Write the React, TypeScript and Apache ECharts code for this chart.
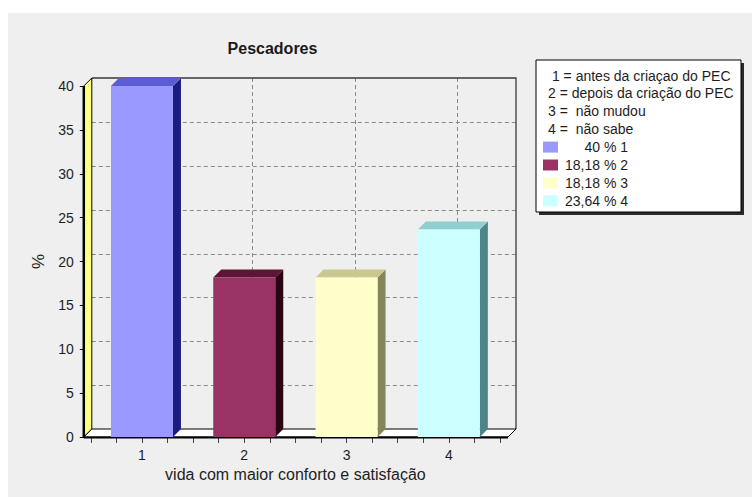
import React, { useEffect, useRef } from 'react';
import * as echarts from 'echarts';

const chartTitle = 'Pescadores';
const categories = ['1', '2', '3', '4'];
const values = [40, 18.18, 18.18, 23.64];
const legendDescriptions = [
  ' 1 = antes da criaçao do PEC',
  '2 = depois da criação do PEC',
  '3 =  não mudou',
  '4 =  não sabe',
];
const yTicks = [0, 5, 10, 15, 20, 25, 30, 35, 40];
const xAxisTitle = 'vida com maior conforto e satisfação';
const yAxisTitle = '%';

const frontColors = ['#9999ff', '#993366', '#ffffcc', '#ccffff'];
const topColors = ['#5c5cd6', '#5e1434', '#c9c98f', '#8fcfcf'];
const sideColors = ['#1c1c80', '#2b0414', '#85855a', '#4f8585'];

const FONT = "'Liberation Sans', Arial, sans-serif";
const TEXT = '#1e1e1e';
const DEPTH = 8;
const BAR_HALF = 0.303;
const Y_MAX = 40;

const fmt = (v: number) => String(v).replace('.', ',');

export default function App() {
  const ref = useRef<HTMLDivElement>(null);

  useEffect(() => {
    const chart = echarts.init(ref.current!, null, { renderer: 'svg' });
    const xs = categories.map((_, i) => i + 1);
    const xMin = 0.5;
    const xMax = categories.length + 0.5;

    const frameItem = (_params: any, api: any) => {
      const d = DEPTH;
      const [xl0, yB] = api.coord([xMin, 0]);
      const [xr0, yT] = api.coord([xMax, Y_MAX]);
      const xL = xl0 - 7;
      const xR = xr0 + 8;
      const children: any[] = [];
      const grid = { stroke: '#8a8a8a', lineWidth: 1, lineDash: [4, 3] };
      yTicks.forEach((v) => {
        if (v === 0 || v === Y_MAX) return;
        const y = Math.round(api.coord([1, v])[1] - d) + 0.5;
        children.push({ type: 'line', shape: { x1: xL + d, y1: y, x2: xR + d, y2: y }, style: grid });
      });
      xs.forEach((c) => {
        const x = Math.round(api.coord([c, 0])[0] + d) + 0.5;
        children.push({ type: 'line', shape: { x1: x, y1: yT - d, x2: x, y2: yB - d }, style: grid });
      });
      children.push({
        type: 'polyline',
        shape: { points: [[xL + d, yT - d], [xR + d, yT - d], [xR + d, yB - d]] },
        style: { stroke: '#3a3a3a', lineWidth: 1.3, fill: null },
      });
      children.push({
        type: 'polygon',
        shape: { points: [[xL, yT], [xL + d, yT - d], [xL + d, yB - d], [xL, yB]] },
        style: { fill: '#ffff80', stroke: '#000', lineWidth: 1 },
      });
      children.push({
        type: 'polygon',
        shape: { points: [[xL, yB], [xL + d, yB - d], [xR + d, yB - d], [xR, yB]] },
        style: { fill: '#ffffff', stroke: '#000', lineWidth: 1 },
      });
      children.push({
        type: 'line',
        shape: { x1: xL, y1: yB + 0.5, x2: xR, y2: yB + 0.5 },
        style: { stroke: '#000', lineWidth: 2 },
      });
      children.push({
        type: 'line',
        shape: { x1: xL, y1: yT, x2: xL, y2: yB + 1 },
        style: { stroke: '#000', lineWidth: 2.5 },
      });
      return { type: 'group', children };
    };

    const barItem = (params: any, api: any) => {
      const d = DEPTH;
      const x = api.value(0);
      const v = api.value(1);
      const i = params.dataIndex;
      const [xl, yt] = api.coord([x - BAR_HALF, v]);
      const [xr, yb] = api.coord([x + BAR_HALF, 0]);
      return {
        type: 'group',
        children: [
          {
            type: 'polygon',
            shape: { points: [[xr, yt], [xr + d, yt - d], [xr + d, yb - d], [xr, yb]] },
            style: { fill: sideColors[i] },
          },
          {
            type: 'polygon',
            shape: { points: [[xl, yt], [xl + d, yt - d], [xr + d, yt - d], [xr, yt]] },
            style: { fill: topColors[i] },
          },
          {
            type: 'rect',
            shape: { x: xl, y: yt, width: xr - xl, height: yb - yt },
            style: { fill: frontColors[i] },
          },
        ],
      };
    };

    // legend box
    const LX = 528, LY = 47, LW = 205, LH = 152;
    const rowY = (k: number) => LY + 15.5 + k * 17.9;
    const legendChildren: any[] = [
      { type: 'rect', shape: { x: LX + 3, y: LY + 3, width: LW, height: LH }, style: { fill: '#2a2a2a' } },
      { type: 'rect', shape: { x: LX, y: LY, width: LW, height: LH }, style: { fill: '#ffffff', stroke: '#000', lineWidth: 1 } },
    ];
    legendDescriptions.forEach((t, k) => {
      legendChildren.push({
        type: 'text',
        x: LX + 12,
        y: rowY(k),
        style: { text: t, font: `14px ${FONT}`, fill: TEXT, align: 'left', verticalAlign: 'middle' },
      });
    });
    values.forEach((v, k) => {
      const y = rowY(legendDescriptions.length + k);
      legendChildren.push({
        type: 'rect',
        shape: { x: LX + 7, y: y - 5.5, width: 15, height: 11 },
        style: { fill: frontColors[k] },
      });
      legendChildren.push({
        type: 'text',
        x: LX + 64,
        y,
        style: { text: fmt(v), font: `14px ${FONT}`, fill: TEXT, align: 'right', verticalAlign: 'middle' },
      });
      legendChildren.push({
        type: 'text',
        x: LX + 68,
        y,
        style: { text: `% ${categories[k]}`, font: `14px ${FONT}`, fill: TEXT, align: 'left', verticalAlign: 'middle' },
      });
    });

    chart.setOption({
      animation: false,
      backgroundColor: '#efefef',
      grid: { left: 82.8, top: 73, width: 409.2, height: 351 },
      xAxis: {
        type: 'value',
        min: xMin,
        max: xMax,
        interval: 0.25,
        axisLine: { show: false },
        axisTick: { show: true, length: 6, lineStyle: { color: '#444' } },
        axisLabel: {
          formatter: (v: number) => (Number.isInteger(v) ? categories[v - 1] : ''),
          fontSize: 14,
          fontFamily: FONT,
          color: TEXT,
          margin: 11,
          showMinLabel: true,
          showMaxLabel: true,
        },
        splitLine: { show: false },
        name: xAxisTitle,
        nameLocation: 'middle',
        nameGap: 28,
        nameTextStyle: { fontSize: 16, fontFamily: FONT, color: TEXT },
      },
      yAxis: {
        type: 'value',
        min: 0,
        max: Y_MAX,
        interval: 5,
        offset: 7,
        axisLine: { show: false },
        axisTick: { show: true, length: 4, lineStyle: { color: '#000' } },
        axisLabel: { fontSize: 14, fontFamily: FONT, color: TEXT, margin: 10 },
        splitLine: { show: false },
        name: yAxisTitle,
        nameLocation: 'middle',
        nameGap: 33,
        nameTextStyle: { fontSize: 17, fontFamily: FONT, color: TEXT },
      },
      graphic: [
        {
          type: 'text',
          x: 264.5,
          y: 35.3,
          style: { text: chartTitle, font: `bold 16px ${FONT}`, fill: '#1a1a1a', align: 'center', verticalAlign: 'middle' },
        },
        { type: 'group', children: legendChildren },
      ],
      series: [
        {
          type: 'custom',
          z: 1,
          clip: false,
          renderItem: frameItem,
          data: [[1, 0]],
          silent: true,
        },
        {
          type: 'custom',
          z: 3,
          clip: false,
          renderItem: barItem,
          data: xs.map((x, i) => [x, values[i]]),
        },
      ],
    });
    return () => chart.dispose();
  }, []);

  return (
    <div
      ref={ref}
      style={{ position: 'absolute', left: 8, top: 13, width: 744, height: 484 }}
    />
  );
}
